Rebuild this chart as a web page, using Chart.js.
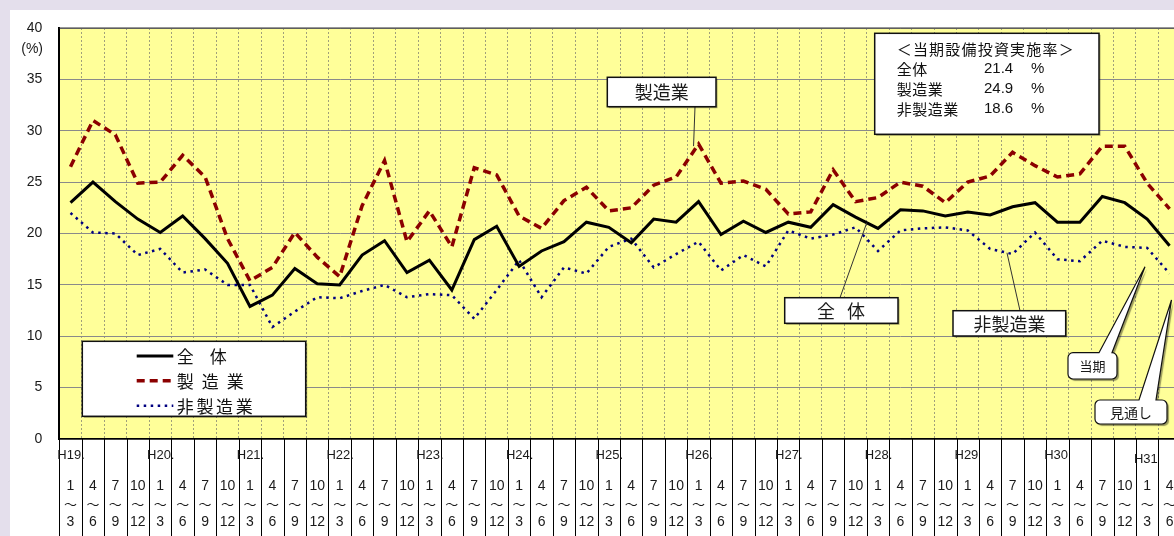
<!doctype html>
<html lang="ja">
<head>
<meta charset="utf-8">
<title>当期設備投資実施率</title>
<style>
  * { margin: 0; padding: 0; }
  html, body { width: 1174px; height: 536px; overflow: hidden; background: #e4dfec; }
  .chartCard { position: absolute; left: 10px; top: 10px; width: 1200px; height: 526px; background: #fff; }
</style>
</head>
<body>
<div class="chartCard"><canvas id="myChart" width="1200" height="526"></canvas></div>
<script src="https://cdn.jsdelivr.net/npm/chart.js/dist/chart.umd.min.js"></script>
<script>
// setup
const years = ['H19.', 'H20.', 'H21.', 'H22.', 'H23.', 'H24.', 'H25.', 'H26.', 'H27.', 'H28.', 'H29', 'H30', 'H31'];
const quarterFrom = ['1', '4', '7', '10'];
const quarterTo = ['3', '6', '9', '12'];
const yTicks = [0, 5, 10, 15, 20, 25, 30, 35, 40];

const total = [23.0, 25.0, 23.1, 21.4, 20.1, 21.7, 19.5, 17.1, 12.9, 14.0,
  16.6, 15.1, 15.0, 17.9, 19.3, 16.2, 17.4, 14.5, 19.4, 20.7,
  16.8, 18.3, 19.2, 21.1, 20.6, 19.1, 21.4, 21.1, 23.1, 19.9,
  21.2, 20.1, 21.1, 20.6, 22.8, 21.6, 20.5, 22.3, 22.2, 21.7,
  22.1, 21.8, 22.6, 23.0, 21.1, 21.1, 23.6, 23.0, 21.4, 18.8];
const manufacturing = [26.5, 31.0, 29.6, 24.9, 25.0, 27.6, 25.5, 19.5, 15.4, 16.7,
  20.1, 17.7, 15.8, 22.7, 27.1, 19.2, 22.2, 18.7, 26.4, 25.7,
  21.7, 20.5, 23.2, 24.5, 22.2, 22.5, 24.7, 25.5, 28.7, 24.9,
  25.1, 24.3, 21.9, 22.1, 26.2, 23.1, 23.5, 25.0, 24.6, 23.0,
  25.0, 25.6, 27.9, 26.6, 25.5, 25.8, 28.5, 28.5, 24.9, 22.4];
const nonManufacturing = [22.0, 20.1, 20.0, 17.9, 18.5, 16.2, 16.5, 15.0, 15.0, 10.9,
  12.4, 13.8, 13.7, 14.4, 15.0, 13.8, 14.1, 14.0, 11.7, 14.5,
  17.4, 13.8, 16.7, 16.1, 18.7, 19.5, 16.7, 18.0, 19.2, 16.4,
  17.9, 16.8, 20.3, 19.5, 19.9, 20.6, 18.3, 20.3, 20.5, 20.6,
  20.3, 18.5, 18.0, 20.1, 17.5, 17.3, 19.3, 18.7, 18.6, 16.1];

// categories: year label on the 1~3 quarter only
const categories = [], catYear = [], catFrom = [], catTo = [];
years.forEach((yr, yi) => {
  quarterFrom.forEach((q, qi) => {
    if (categories.length >= total.length) return;
    categories.push(yr + q + '～' + quarterTo[qi]);
    catYear.push(qi === 0 ? yr : '');
    catFrom.push(q);
    catTo.push(quarterTo[qi]);
  });
});

const JP = '"Noto Sans CJK JP", sans-serif';
const NUM = '"Liberation Sans", Arial, sans-serif';

function spaced(ctx, str, x, y, sp) {
  ctx.letterSpacing = sp + 'px';
  ctx.fillText(str, x, y);
  ctx.letterSpacing = '0px';
}

function plainBox(ctx, x, y, w, h) {
  ctx.save();
  ctx.shadowColor = 'rgba(0,0,0,0.35)';
  ctx.shadowOffsetX = 1.5;
  ctx.shadowOffsetY = 1.5;
  ctx.fillStyle = '#fff';
  ctx.fillRect(x, y, w, h);
  ctx.restore();
  ctx.save();
  ctx.strokeStyle = '#111';
  ctx.lineWidth = 1.5;
  ctx.strokeRect(x, y, w, h);
  ctx.restore();
}

// rounded box with a wedge pointer leaving its top edge
function calloutBox(ctx, x, y, w, h, r, b1, b2, tx, ty) {
  ctx.save();
  ctx.beginPath();
  ctx.moveTo(x + r, y);
  ctx.lineTo(b1, y);
  ctx.lineTo(tx, ty);
  ctx.lineTo(b2, y);
  ctx.lineTo(x + w - r, y);
  ctx.arcTo(x + w, y, x + w, y + r, r);
  ctx.lineTo(x + w, y + h - r);
  ctx.arcTo(x + w, y + h, x + w - r, y + h, r);
  ctx.lineTo(x + r, y + h);
  ctx.arcTo(x, y + h, x, y + h - r, r);
  ctx.lineTo(x, y + r);
  ctx.arcTo(x, y, x + r, y, r);
  ctx.closePath();
  ctx.shadowColor = 'rgba(0,0,0,0.4)';
  ctx.shadowOffsetX = 2;
  ctx.shadowOffsetY = 2;
  ctx.shadowBlur = 1;
  ctx.fillStyle = '#fff';
  ctx.fill();
  ctx.shadowColor = 'transparent';
  ctx.strokeStyle = '#111';
  ctx.lineWidth = 1.2;
  ctx.stroke();
  ctx.restore();
}

const plotBackground = {
  id: 'plotBackground',
  beforeDraw(chart) {
    const { ctx, chartArea: a } = chart;
    ctx.save();
    ctx.fillStyle = '#ffff99';
    ctx.fillRect(a.left, a.top, a.right - a.left, a.bottom - a.top);
    ctx.restore();
  }
};

const quarterAxis = {
  id: 'quarterAxis',
  afterDraw(chart) {
    const { ctx, chartArea: a, scales: { x } } = chart;
    const step = x.getPixelForValue(1) - x.getPixelForValue(0);
    ctx.save();
    // top frame line
    ctx.strokeStyle = '#333';
    ctx.lineWidth = 1.2;
    ctx.beginPath();
    ctx.moveTo(a.left, a.top);
    ctx.lineTo(a.right, a.top);
    ctx.stroke();
    // column separators below the plot
    ctx.strokeStyle = '#000';
    ctx.lineWidth = 1;
    for (let i = 0; i <= categories.length; i++) {
      const px = Math.round(x.getPixelForValue(i) - step / 2) + 0.5;
      ctx.beginPath();
      ctx.moveTo(px, a.bottom);
      ctx.lineTo(px, chart.height);
      ctx.stroke();
    }
    ctx.fillStyle = '#1a1a1a';
    ctx.textBaseline = 'middle';
    categories.forEach((c, i) => {
      const cx = x.getPixelForValue(i);
      ctx.textAlign = 'center';
      ctx.font = '14px ' + NUM;
      ctx.fillText(catFrom[i], cx, a.bottom + 47);
      ctx.fillText(catTo[i], cx, a.bottom + 83);
      ctx.font = '13px ' + JP;
      ctx.fillText('～', cx, a.bottom + 65);
      if (catYear[i]) {
        ctx.textAlign = 'left';
        ctx.font = '13px ' + NUM;
        const dy = catYear[i] === 'H31' ? 20 : 16;
        ctx.fillText(catYear[i], cx - step / 2 - 2, a.bottom + dy);
      }
    });
    // unit label
    ctx.textAlign = 'right';
    ctx.font = '14px ' + NUM;
    ctx.fillText('(%)', 33, 39);
    ctx.restore();
  }
};

const annotations = {
  id: 'annotations',
  afterDraw(chart) {
    const { ctx, scales: { x, y } } = chart;
    const step = x.getPixelForValue(1) - x.getPixelForValue(0);
    const ds = chart.data.datasets;
    ctx.save();

    // legend box
    plainBox(ctx, 72.3, 331.3, 223.4, 75);
    const rows = [346, 370.7, 395.7];
    const spacing = [16, 8, 2.7];
    ds.forEach((d, i) => {
      ctx.save();
      ctx.strokeStyle = d.borderColor;
      ctx.lineWidth = d.borderWidth;
      ctx.setLineDash(d.borderDash || []);
      ctx.beginPath();
      ctx.moveTo(126.7, rows[i]);
      ctx.lineTo(163.3, rows[i]);
      ctx.stroke();
      ctx.restore();
      ctx.fillStyle = '#111';
      ctx.font = '17px ' + JP;
      ctx.textAlign = 'left';
      ctx.textBaseline = 'middle';
      spaced(ctx, d.label, 166.7, rows[i] + 1, spacing[i]);
    });

    // info box: current period rates
    plainBox(ctx, 864.7, 23.3, 224.3, 101);
    ctx.fillStyle = '#111';
    ctx.textAlign = 'left';
    ctx.textBaseline = 'middle';
    ctx.font = '15px ' + JP;
    spaced(ctx, '＜当期設備投資実施率＞', 886.7, 39, 1.2);
    const cur = total.length - 2;
    const infoRows = [
      [ds[0].label, total[cur], 59],
      [ds[1].label, manufacturing[cur], 79.3],
      [ds[2].label, nonManufacturing[cur], 99.3]
    ];
    infoRows.forEach(([name, v, ry]) => {
      ctx.font = '15px ' + JP;
      spaced(ctx, name, 886.7, ry, 0.5);
      ctx.font = '15px ' + NUM;
      ctx.fillText(v.toFixed(1), 974, ry);
      ctx.fillText('%', 1021, ry);
    });

    // leader lines
    ctx.strokeStyle = '#333';
    ctx.lineWidth = 1;
    const mx = x.getPixelForValue(28), my = y.getPixelForValue(manufacturing[28]);
    ctx.beginPath(); ctx.moveTo(685, 96.7); ctx.lineTo(mx - 5, my + 2); ctx.stroke();
    const tx = x.getPixelForValue(35) + step / 2;
    const ty = y.getPixelForValue((total[35] + total[36]) / 2);
    ctx.beginPath(); ctx.moveTo(830, 287.7); ctx.lineTo(tx, ty); ctx.stroke();
    const nx = x.getPixelForValue(41) + step * 0.75;
    const ny = y.getPixelForValue(nonManufacturing[41] + 0.75 * (nonManufacturing[42] - nonManufacturing[41]));
    ctx.beginPath(); ctx.moveTo(1010, 300.7); ctx.lineTo(nx, ny); ctx.stroke();

    // series callouts
    ctx.fillStyle = '#1a1a1a';
    ctx.textAlign = 'center';
    ctx.font = '18px ' + JP;
    plainBox(ctx, 597.3, 67.3, 108.7, 29.4);
    ctx.fillText(ds[1].label, 651.7, 82.5);
    plainBox(ctx, 774.7, 287.7, 113.3, 25.6);
    spaced(ctx, ds[0].label, 831 + 6, 301, 12);
    plainBox(ctx, 943, 300.7, 112.7, 25.3);
    ctx.fillText(ds[2].label, 999.5, 314);

    // current / outlook callouts
    calloutBox(ctx, 1058, 342.7, 49, 26.3, 5, 1089, 1102, 1135, 256.7);
    calloutBox(ctx, 1085, 390, 72, 24, 5, 1129, 1146, 1161.5, 290);
    ctx.fillStyle = '#1a1a1a';
    ctx.font = '13px ' + JP;
    ctx.fillText('当期', 1082.5, 356.5);
    ctx.font = '14px ' + JP;
    ctx.fillText('見通し', 1121, 402.5);
    ctx.restore();
  }
};

// config
const config = {
  type: 'line',
  data: {
    labels: categories,
    datasets: [
      { label: '全体', data: total, borderColor: '#000000', borderWidth: 3,
        pointRadius: 0, tension: 0, order: 1 },
      { label: '製造業', data: manufacturing, borderColor: '#8b0000', borderWidth: 3.5,
        borderDash: [8, 5], pointRadius: 0, tension: 0, order: 2 },
      { label: '非製造業', data: nonManufacturing, borderColor: '#000080', borderWidth: 2.5,
        borderDash: [2.5, 4.5], pointRadius: 0, tension: 0, order: 3 }
    ]
  },
  options: {
    responsive: false,
    animation: false,
    events: [],
    layout: { padding: { top: 18, right: 29.2, bottom: 97, left: 0 } },
    scales: {
      x: {
        offset: true,
        grid: { offset: true, color: 'rgba(120,120,110,0.7)', lineWidth: 1, drawTicks: false },
        border: { display: true, color: '#000', width: 1.5, dash: [2, 2] },
        ticks: { display: false },
        afterFit: (s) => { s.height = 0; }
      },
      y: {
        min: 0,
        max: 40,
        afterBuildTicks: (s) => { s.ticks = yTicks.map(v => ({ value: v })); },
        // invisible tick marks push the labels away from the axis
        grid: { color: '#8a8a8a', lineWidth: 1, drawTicks: true, tickLength: 17, tickColor: 'rgba(0,0,0,0)' },
        border: { display: true, color: '#000', width: 2 },
        ticks: { padding: 0, color: '#1a1a1a', font: { family: NUM, size: 14 } },
        afterFit: (s) => { s.width = 49.3; }
      }
    },
    plugins: {
      legend: { display: false },
      tooltip: { enabled: false }
    }
  },
  plugins: [plotBackground, quarterAxis, annotations]
};

const myChart = new Chart(document.getElementById('myChart'), config);
</script>
</body>
</html>
